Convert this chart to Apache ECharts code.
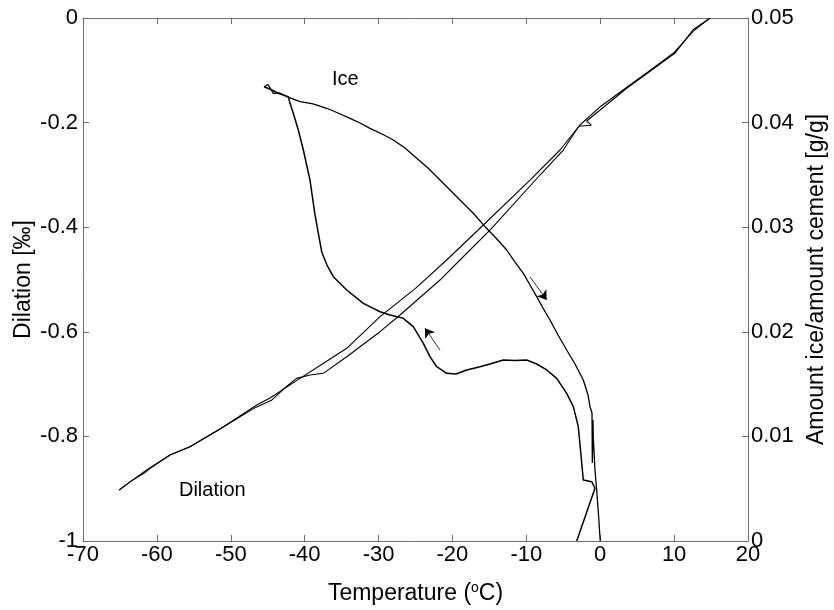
<!DOCTYPE html>
<html><head><meta charset="utf-8">
<script src="https://cdn.jsdelivr.net/npm/echarts@6/dist/echarts.min.js"></script>
<style>html,body{margin:0;padding:0;background:#fff}#c{width:834px;height:610px}</style>
</head><body><div id="c"></div>
<script>
// ---- Data ----
// Ice curve, cooling branch (temperature °C, amount ice/amount cement g/g)
const iceCoolT = [-3.18,-0.71,-1.15,-2.29,-2.6,-2.97,-3.64,-4.54,-5.89,-7.24,-8.6,-9.95,-11.53,-13.12,-14.92,-16.27,-18.07,-19.52,-20.78,-22.13,-23.04,-23.94,-25.3,-26.65,-28.45,-29.8,-32.06,-34.31,-36.12,-36.98,-37.69,-38.6,-39.28,-40.18,-40.86,-41.54,-41.98,-42.21,-43.34,-44.42,-45.5];
const iceCoolV = [0,0.00504,0.00567,0.00583,0.0082,0.01093,0.01284,0.01412,0.01555,0.01635,0.01692,0.0173,0.01725,0.0173,0.01692,0.01666,0.01635,0.01597,0.01603,0.01666,0.01762,0.0189,0.02049,0.02129,0.0216,0.02192,0.02272,0.024,0.02527,0.02638,0.02763,0.03117,0.03451,0.03738,0.03929,0.04089,0.04184,0.04248,0.04273,0.04312,0.04343];
// Ice curve, warming branch
const iceWarmT = [-45.5,-44.96,-44.25,-43.34,-42.43,-40.63,-38.87,-37.02,-35.49,-33.86,-32.51,-31.16,-29.53,-28.0,-26.42,-24.84,-23.31,-21.68,-20.33,-18.98,-17.18,-15.59,-14.11,-12.66,-11.53,-10.41,-9.5,-8.6,-7.74,-6.8,-5.71,-4.54,-3.41,-2.29,-1.65,-1.38,-1.11,-1.07,-0.98,-0.94,-0.71,-0.48,-0.23,0];
const iceWarmV = [0.04343,0.04364,0.0428,0.04283,0.04248,0.042,0.04178,0.04137,0.04092,0.04041,0.03996,0.03945,0.03891,0.03834,0.03757,0.03659,0.03566,0.03451,0.03356,0.0326,0.03133,0.03005,0.02897,0.02782,0.02667,0.02559,0.02447,0.02336,0.02227,0.02113,0.01969,0.01826,0.01692,0.01539,0.01396,0.01284,0.01224,0.00746,0.01157,0.00997,0.00679,0.00488,0.00249,0];
// Dilation curve, branch A (temperature °C, dilation ‰)
const dilAT = [-65.1,-63.64,-61.38,-58.23,-55.52,-51.46,-46.49,-44.69,-40.63,-37.5,-34.31,-29.8,-25.0,-20.78,-15.82,-9.5,-5.44,-2.74,0,3.6,6.5,9.89,12.6,14.63];
const dilAV = [-0.9025,-0.887,-0.864,-0.8356,-0.8197,-0.786,-0.74,-0.7266,-0.689,-0.6606,-0.6316,-0.5711,-0.517,-0.4627,-0.3958,-0.3098,-0.2524,-0.2046,-0.1696,-0.1324,-0.1025,-0.0675,-0.025,-0.0025];
// Dilation curve, branch B
const dilBT = [-65.1,-63.64,-61.6,-61.0,-58.23,-55.52,-51.46,-46.7,-44.5,-42.5,-41.1,-39.28,-37.48,-34.31,-29.8,-27.1,-21.68,-18.98,-14.92,-8.15,-5.0,-2.9,-1.2,-1.83,3.58,9.44,10.1,12.6,14.86];
const dilBV = [-0.9025,-0.887,-0.869,-0.862,-0.8356,-0.8197,-0.786,-0.745,-0.731,-0.705,-0.689,-0.6826,-0.6794,-0.6476,-0.5998,-0.5679,-0.501,-0.4627,-0.4054,-0.3002,-0.2524,-0.207,-0.205,-0.197,-0.1344,-0.074,-0.0675,-0.022,-0.0006];
// Direction arrows: [fromT, fromDilation, toT, toDilation]
const arrows = [[-9.5,-0.495,-7.24,-0.539],[-21.68,-0.635,-23.71,-0.593]];
// Text annotations (placed in data coordinates of the left axis)
const annoText = ['Ice','Dilation'];
const annoT = [-34.5,-52.5];
const annoV = [-0.117,-0.9025];
// Axis ranges / ticks
const xRange = [-70,20,10];
const yLeftRange = [-1,0,0.2];
const yRightRange = [0,0.05,0.01];

const zip = (a,b) => a.map((v,i)=>[v,b[i]]);
const FONT = '"Liberation Sans", Arial, Helvetica, sans-serif';
const AX = '#6b6b6b';
const axLine = {show:true, onZero:false, lineStyle:{color:AX, width:1}};
const axTick = {show:true, inside:true, length:6, lineStyle:{color:AX, width:1}};
const lab = {color:'#000', fontSize:22, fontFamily:FONT};
const nameStyle = {color:'#000', fontSize:23, fontFamily:FONT};

const chart = echarts.init(document.getElementById('c'), null, {renderer:'canvas'});
chart.setOption({
  animation:false,
  backgroundColor:'#fff',
  grid:{left:83, right:86, top:18, bottom:69, containLabel:false, outerBoundsMode:'none'},
  xAxis:[
    {type:'value', min:xRange[0], max:xRange[1], interval:xRange[2], position:'bottom',
     axisLine:axLine, axisTick:axTick, splitLine:{show:false},
     axisLabel:Object.assign({margin:3}, lab),
     name:'{a|Temperature (}{s|o}{a|C)}', nameLocation:'middle', nameGap:40, nameMoveOverlap:false,
     nameTextStyle:{rich:{a:nameStyle, s:{color:'#000', fontSize:14, fontFamily:FONT, padding:[0,0,12,0]}}}},
    {type:'value', min:xRange[0], max:xRange[1], interval:xRange[2], position:'top',
     axisLine:axLine, axisTick:axTick, splitLine:{show:false}, axisLabel:{show:false}}
  ],
  yAxis:[
    {type:'value', min:yLeftRange[0], max:yLeftRange[1], interval:yLeftRange[2], position:'left',
     axisLine:axLine, axisTick:axTick, splitLine:{show:false},
     axisLabel:Object.assign({margin:5}, lab),
     name:'Dilation [‰]', nameLocation:'middle', nameGap:48, nameRotate:90, nameMoveOverlap:false, nameTextStyle:nameStyle},
    {type:'value', min:yRightRange[0], max:yRightRange[1], interval:yRightRange[2], position:'right',
     axisLine:axLine, axisTick:axTick, splitLine:{show:false},
     axisLabel:Object.assign({margin:3}, lab),
     name:'Amount ice/amount cement [g/g]', nameLocation:'middle', nameGap:57, nameRotate:90, nameMoveOverlap:false, nameTextStyle:nameStyle}
  ],
  series:[
    {type:'line', name:'Ice cooling', yAxisIndex:1, data:zip(iceCoolT, iceCoolV), symbol:'none', lineStyle:{color:'#000', width:1.5}},
    {type:'line', name:'Ice warming', yAxisIndex:1, data:zip(iceWarmT, iceWarmV), symbol:'none', lineStyle:{color:'#000', width:1.3}},
    {type:'line', name:'Dilation A', yAxisIndex:0, data:zip(dilAT, dilAV), symbol:'none', lineStyle:{color:'#000', width:1.1}},
    {type:'line', name:'Dilation B', yAxisIndex:0, data:zip(dilBT, dilBV), symbol:'none', lineStyle:{color:'#000', width:1.1}},
    {type:'lines', coordinateSystem:'cartesian2d', xAxisIndex:0, yAxisIndex:0,
     symbol:['none','arrow'], symbolSize:[0,9],
     lineStyle:{color:'#000', width:0.8, opacity:1, curveness:0},
     data:arrows.map(a=>({coords:[[a[0],a[1]],[a[2],a[3]]]}))}
  ]
});
// Text annotations positioned through the chart's own scales
chart.setOption({
  graphic: annoText.map((t,i) => {
    const p = chart.convertToPixel({xAxisIndex:0, yAxisIndex:0}, [annoT[i], annoV[i]]);
    return {type:'text', x:p[0], y:p[1], silent:true,
      style:{text:t, fill:'#000', font:'20px ' + FONT, textAlign:'center', textVerticalAlign:'middle'}};
  })
});
</script></body></html>
